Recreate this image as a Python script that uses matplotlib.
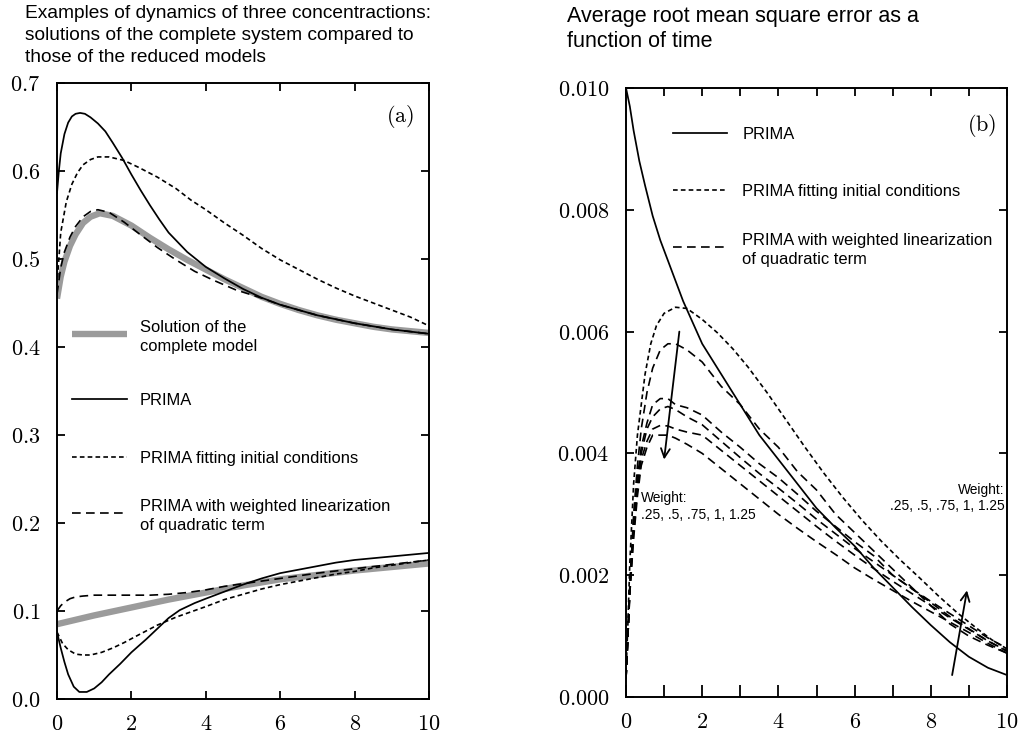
import matplotlib
matplotlib.use('Agg')
import matplotlib.pyplot as plt
from matplotlib.lines import Line2D

plt.rcParams['font.family'] = ['Liberation Sans', 'DejaVu Sans']
plt.rcParams['mathtext.fontset'] = 'cm'

# ---------- panel (a): concentrations ----------
t_gray_up = [0, 0.1, 0.2, 0.35, 0.5, 0.7, 0.9, 1.15, 1.5, 2, 2.5, 3, 3.5, 4, 4.5, 5,
             5.5, 6, 6.5, 7, 7.5, 8, 8.5, 9, 9.5, 10]
gray_up = [0.455, 0.48, 0.497, 0.515, 0.528, 0.541, 0.548, 0.552, 0.549, 0.538, 0.524,
           0.511, 0.499, 0.488, 0.477, 0.467, 0.457, 0.449, 0.442, 0.436, 0.431, 0.427,
           0.423, 0.420, 0.418, 0.416]

t_prima_up = [0, 0.05, 0.1, 0.2, 0.3, 0.4, 0.5, 0.62, 0.75, 0.9, 1.1, 1.3, 1.5, 1.75, 2,
              2.25, 2.5, 2.75, 3, 3.5, 4, 4.5, 5, 5.5, 6, 7, 8, 9, 10]
prima_up = [0.575, 0.60, 0.62, 0.642, 0.655, 0.662, 0.665, 0.666, 0.665, 0.661, 0.654,
            0.645, 0.632, 0.615, 0.596, 0.578, 0.561, 0.545, 0.530, 0.508, 0.491, 0.478,
            0.466, 0.456, 0.448, 0.436, 0.427, 0.420, 0.415]

t_fit_up = [0, 0.1, 0.25, 0.4, 0.55, 0.7, 0.9, 1.1, 1.4, 1.8, 2.2, 2.7, 3.2, 3.6, 4, 4.5,
            5, 5.5, 6, 6.5, 7, 7.5, 8, 8.5, 9, 9.5, 10]
fit_up = [0.47, 0.53, 0.565, 0.585, 0.598, 0.607, 0.613, 0.616, 0.616, 0.612, 0.604,
          0.593, 0.580, 0.567, 0.556, 0.541, 0.527, 0.512, 0.499, 0.488, 0.477, 0.467,
          0.458, 0.450, 0.442, 0.434, 0.424]

t_wlin_up = [0, 0.1, 0.2, 0.35, 0.5, 0.7, 0.9, 1.1, 1.4, 1.8, 2.2, 2.7, 3.2, 3.7, 4.2,
             4.8, 5.4, 6, 7, 8, 9, 10]
wlin_up = [0.46, 0.49, 0.508, 0.525, 0.537, 0.548, 0.554, 0.556, 0.553, 0.542, 0.529,
           0.513, 0.499, 0.486, 0.476, 0.465, 0.457, 0.448, 0.436, 0.427, 0.420, 0.415]

t_gray_lo = [0, 1, 2, 3, 4, 5, 6, 7, 8, 9, 10]
gray_lo = [0.085, 0.095, 0.104, 0.113, 0.121, 0.129, 0.136, 0.141, 0.146, 0.150, 0.154]

t_prima_lo = [0, 0.1, 0.2, 0.3, 0.45, 0.6, 0.8, 1.0, 1.2, 1.4, 1.7, 2.0, 2.4, 2.7, 3.0,
              3.3, 3.7, 4.0, 4.5, 5, 5.5, 6, 6.5, 7, 7.5, 8, 8.5, 9, 9.5, 10]
prima_lo = [0.076, 0.058, 0.042, 0.028, 0.014, 0.008, 0.008, 0.012, 0.019, 0.028, 0.040,
            0.053, 0.068, 0.080, 0.092, 0.101, 0.109, 0.114, 0.122, 0.130, 0.137, 0.143,
            0.147, 0.151, 0.155, 0.158, 0.160, 0.162, 0.164, 0.166]

t_fit_lo = [0, 0.15, 0.3, 0.5, 0.7, 0.9, 1.2, 1.5, 1.8, 2.2, 2.7, 3.2, 3.6, 4, 4.5, 5,
            5.5, 6, 6.5, 7, 7.5, 8, 8.5, 9, 9.5, 10]
fit_lo = [0.076, 0.063, 0.056, 0.051, 0.050, 0.050, 0.053, 0.058, 0.064, 0.073, 0.084,
          0.093, 0.099, 0.105, 0.113, 0.119, 0.125, 0.130, 0.134, 0.138, 0.142, 0.145,
          0.149, 0.152, 0.155, 0.158]

t_wlin_lo = [0, 0.1, 0.2, 0.35, 0.5, 0.7, 1, 1.5, 2, 2.5, 3, 3.5, 4, 4.5, 5, 5.5, 6, 7,
             8, 9, 10]
wlin_lo = [0.100, 0.106, 0.110, 0.114, 0.116, 0.117, 0.118, 0.118, 0.118, 0.118, 0.119,
           0.121, 0.124, 0.128, 0.131, 0.134, 0.137, 0.143, 0.148, 0.153, 0.158]

# ---------- panel (b): average RMSE ----------
t_rmse_prima = [0, 0.1, 0.2, 0.35, 0.5, 0.7, 0.9, 1.2, 1.5, 2, 2.5, 3, 3.5, 4, 4.5, 5,
                5.5, 6, 6.5, 7, 7.5, 8, 8.5, 9, 9.5, 10]
rmse_prima = [0.0100, 0.0097, 0.0093, 0.0088, 0.0084, 0.0079, 0.0075, 0.0070, 0.0065,
              0.0058, 0.0053, 0.0048, 0.0043, 0.0039, 0.0035, 0.0031, 0.00278, 0.00248,
              0.00212, 0.0018, 0.00148, 0.00118, 0.0009, 0.00066, 0.00048, 0.00036]

t_rmse_fit = [0, 0.05, 0.1, 0.2, 0.3, 0.4, 0.5, 0.65, 0.8, 1.0, 1.3, 1.6, 2.0, 2.4, 2.8,
              3.2, 3.7, 4.2, 4.7, 5.2, 5.7, 6.2, 6.7, 7.2, 7.7, 8.2, 8.7, 9.2, 9.6, 10]
rmse_fit = [0.0004, 0.0012, 0.0022, 0.0035, 0.0043, 0.0048, 0.0053, 0.0058, 0.0061,
            0.0063, 0.0064, 0.00638, 0.0062, 0.00598, 0.00572, 0.00542, 0.00500, 0.00455,
            0.00410, 0.00367, 0.00327, 0.0029, 0.00256, 0.00225, 0.00196, 0.00166,
            0.00138, 0.00113, 0.00094, 0.00079]

t_rmse_w = [0, 0.05, 0.1, 0.2, 0.3, 0.4, 0.55, 0.7, 0.9, 1.1, 1.3, 1.6, 2.0, 2.5, 3.0,
            3.5, 4.0, 4.5, 5.0, 5.5, 6.0, 6.5, 7.0, 7.5, 8.0, 8.5, 9.0, 9.5, 10]
weights = ['.25', '.5', '.75', '1', '1.25']
rmse_w025 = [0.0003, 0.0010, 0.0018, 0.0030, 0.0038, 0.0044, 0.0050, 0.0054, 0.0057,
             0.0058, 0.0058, 0.0057, 0.0055, 0.0051, 0.0048, 0.0044, 0.0041, 0.0037,
             0.0034, 0.0030, 0.0027, 0.0024, 0.0021, 0.0018, 0.0015, 0.0012, 0.0010,
             0.00085, 0.00072]
rmse_w050 = [0.0003, 0.0010, 0.0018, 0.0029, 0.0036, 0.0041, 0.0045, 0.0048, 0.0049,
             0.0049, 0.0048, 0.00475, 0.00463, 0.00435, 0.0041, 0.00383, 0.0036, 0.00333,
             0.00305, 0.0028, 0.00255, 0.00232, 0.0020, 0.00178, 0.00155, 0.00132,
             0.00112, 0.00092, 0.00076]
rmse_w075 = [0.0003, 0.0010, 0.0018, 0.0028, 0.0035, 0.0040, 0.0044, 0.0046, 0.00473,
             0.00477, 0.00472, 0.0046, 0.00447, 0.0042, 0.00393, 0.00367, 0.00343,
             0.00318, 0.00292, 0.00268, 0.00244, 0.00222, 0.0020, 0.00178, 0.00157,
             0.00137, 0.00117, 0.00097, 0.0008]
rmse_w100 = [0.0003, 0.0010, 0.0017, 0.0027, 0.0034, 0.0039, 0.0042, 0.0044, 0.00446,
             0.00445, 0.0044, 0.00435, 0.0043, 0.00405, 0.0038, 0.00355, 0.0033, 0.00305,
             0.0028, 0.00256, 0.00233, 0.00211, 0.0019, 0.0017, 0.0015, 0.0013, 0.00111,
             0.00092, 0.00075]
rmse_w125 = [0.0003, 0.0010, 0.0017, 0.0026, 0.0033, 0.0038, 0.0041, 0.0043, 0.0043,
             0.0043, 0.00425, 0.00415, 0.0040, 0.00375, 0.0035, 0.00325, 0.0030, 0.00277,
             0.00255, 0.00234, 0.00212, 0.00193, 0.00175, 0.00157, 0.0014, 0.00123,
             0.00106, 0.00088, 0.00072]
rmse_w = [rmse_w025, rmse_w050, rmse_w075, rmse_w100, rmse_w125]

# arrows showing the effect of the weight (tail -> head, data coords)
arrow_peak = [(1.4, 0.0060), (1.0, 0.0039)]
arrow_end = [(8.56, 0.00036), (8.95, 0.00175)]

# ticks
xt_a = [0, 2, 4, 6, 8, 10]
xl_a = ['0', '2', '4', '6', '8', '10']
yt_a = [0.0, 0.1, 0.2, 0.3, 0.4, 0.5, 0.6, 0.7]
yl_a = ['0.0', '0.1', '0.2', '0.3', '0.4', '0.5', '0.6', '0.7']
xt_b_minor = [1, 3, 5, 7, 9]
yt_b = [0.000, 0.002, 0.004, 0.006, 0.008, 0.010]
yl_b = ['0.000', '0.002', '0.004', '0.006', '0.008', '0.010']

GRAY = '#9b9b9b'
st_full = dict(color=GRAY, lw=4.6, solid_capstyle='butt')
st_prima = dict(color='black', lw=1.25)
st_fit = dict(color='black', lw=1.2, ls=(0, (2.8, 1.9)))
st_wlin = dict(color='black', lw=1.2, ls=(0, (5.2, 3.2)))

fig = plt.figure(figsize=(10.22, 7.38), dpi=100)
ax1 = fig.add_axes([57 / 1022, 39 / 738, 372 / 1022, 616 / 738])
ax2 = fig.add_axes([626 / 1022, 41 / 738, 381 / 1022, 609 / 738])


def style_axes(ax):
    for s in ax.spines.values():
        s.set_linewidth(1.4)
    ax.tick_params(which='both', direction='in', top=True, right=True, width=1.3,
                   length=5.5, labelsize=16)
    ax.tick_params(axis='x', pad=11)
    ax.tick_params(axis='y', pad=12)


def legend_rows(ax, rows, x0, x1, xt, ys, size=11.9):
    for (label, st), y in zip(rows, ys):
        ax.add_line(Line2D([x0, x1], [y, y], transform=ax.transAxes, **st))
        ax.text(xt, y, label, transform=ax.transAxes, va='center_baseline',
                ha='left', fontsize=size, linespacing=1.3)


# ---- panel (a)
ax1.plot(t_gray_up, gray_up, **st_full)
ax1.plot(t_gray_lo, gray_lo, **st_full)
ax1.plot(t_prima_up, prima_up, **st_prima)
ax1.plot(t_prima_lo, prima_lo, **st_prima)
ax1.plot(t_fit_up, fit_up, **st_fit)
ax1.plot(t_fit_lo, fit_lo, **st_fit)
ax1.plot(t_wlin_up, wlin_up, **st_wlin)
ax1.plot(t_wlin_lo, wlin_lo, **st_wlin)
ax1.set_xlim(0, 10)
ax1.set_ylim(0, 0.7)
ax1.set_xticks(xt_a, ['$%s$' % s for s in xl_a])
ax1.set_yticks(yt_a, ['$%s$' % s for s in yl_a])
style_axes(ax1)
ax1.text(0.922, 0.945, r'$\mathrm{(a)}$', transform=ax1.transAxes, fontsize=16,
         ha='center', va='center')
legend_rows(ax1, [('Solution of the\ncomplete model', st_full),
                  ('PRIMA', st_prima),
                  ('PRIMA fitting initial conditions', st_fit),
                  ('PRIMA with weighted linearization\nof quadratic term', st_wlin)],
            0.040, 0.188, 0.223, [0.593, 0.487, 0.393, 0.302])

# ---- panel (b)
ax2.plot(t_rmse_prima, rmse_prima, **st_prima)
ax2.plot(t_rmse_fit, rmse_fit, **st_fit)
for w, vals in zip(weights, rmse_w):
    ax2.plot(t_rmse_w, vals, **st_wlin)
ax2.set_xlim(0, 10)
ax2.set_ylim(0, 0.010)
ax2.set_xticks(xt_a, ['$%s$' % s for s in xl_a])
ax2.set_xticks(xt_b_minor, minor=True)
ax2.set_yticks(yt_b, ['$%s$' % s for s in yl_b])
style_axes(ax2)
for tk in ax2.xaxis.get_major_ticks() + ax2.xaxis.get_minor_ticks():
    tk.tick1line.set_markersize(9)
for a in (arrow_peak, arrow_end):
    ax2.annotate('', xy=a[1], xytext=a[0],
                 arrowprops=dict(arrowstyle='->', lw=1.3, color='black',
                                 mutation_scale=16, shrinkA=0, shrinkB=0))
wlabel = 'Weight:\n' + ', '.join(weights)
ax2.text(0.39, 0.00338, wlabel, fontsize=9.9, ha='left', va='top', linespacing=1.25)
ax2.text(9.93, 0.00352, wlabel, fontsize=9.9, ha='right', va='top',
         multialignment='right', linespacing=1.25)
ax2.text(0.934, 0.939, r'$\mathrm{(b)}$', transform=ax2.transAxes, fontsize=16,
         ha='center', va='center')
legend_rows(ax2, [('PRIMA', st_prima),
                  ('PRIMA fitting initial conditions', st_fit),
                  ('PRIMA with weighted linearization\nof quadratic term', st_wlin)],
            0.123, 0.265, 0.305, [0.926, 0.833, 0.739])

fig.text(25 / 1022, 1 - 5 / 738,
         'Examples of dynamics of three concentractions:\n'
         'solutions of the complete system compared to\n'
         'those of the reduced models',
         fontsize=13.8, ha='left', va='top', linespacing=1.4)
fig.text(567 / 1022, 1 - 6 / 738,
         'Average root mean square error as a\nfunction of time',
         fontsize=15.5, ha='left', va='top', linespacing=1.28)

fig.savefig('out.png', dpi=100)
